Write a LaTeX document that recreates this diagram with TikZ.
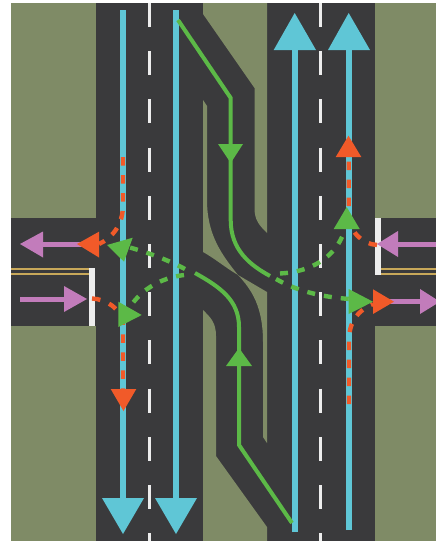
\documentclass[tikz,border=0pt]{standalone}
\definecolor{olive}{HTML}{7F8B66}
\definecolor{road}{HTML}{3A3A3C}
\definecolor{lane}{HTML}{5FC6D6}
\definecolor{turn}{HTML}{5CB947}
\definecolor{cross}{HTML}{F15A29}
\definecolor{walk}{HTML}{C27CBB}
\definecolor{paint}{HTML}{EDEDED}
\definecolor{tan}{HTML}{C8A85A}
\tikzset{
  verge/.style={fill=olive,draw=none},
  blueline/.style={draw=lane,line width=6.4pt},
  bluehead/.style={fill=lane,draw=none},
  greensolid/.style={draw=turn,line width=4pt},
  greendash/.style={draw=turn,line width=4.4pt,dash pattern=on 8pt off 9pt},
  greenhead/.style={fill=turn,draw=none},
  orangedash/.style={draw=cross,line width=4.4pt,dash pattern=on 8.5pt off 9.5pt},
  orangehead/.style={fill=cross,draw=none},
  purpleline/.style={draw=walk,line width=5pt},
  purplehead/.style={fill=walk,draw=none},
  centre/.style={draw=paint,line width=3pt,dash pattern=on 24pt off 24.2pt},
  yellow/.style={draw=tan,line width=1.8pt},
  stopbar/.style={fill=paint,draw=none}
}
\begin{document}
\begin{tikzpicture}[x=1pt,y=-1pt]
\useasboundingbox (0,0) rectangle (436,541);
\begin{scope}
\clip (11,3) rectangle (436,541);
\fill[olive] (11,3) rectangle (436,541);
% roads
\fill[road] (95.5,3) rectangle (267,541);
\fill[road] (267,3) rectangle (375,541);
\fill[road] (11,218) rectangle (436,326);
% verges between the carriageways
\path[verge] (203,3) -- (267,3) -- (267,233) .. controls (259,225) and (254.5,220) .. (254.5,208) -- (254.5,88) -- (203,14) -- cycle;
\path[verge] (203,541) -- (267,541) -- (267,527) -- (216,456) -- (216,336) .. controls (216,322) and (210,317) .. (203,310) -- cycle;
\path[verge] (203,100) -- (207,106) -- (207,200)
   .. controls (207,235) and (222,255) .. (238,275)
   -- (267,292) -- (267,443) -- (263,437) -- (263,342)
   .. controls (263,307) and (252,290) .. (238,275)
   .. controls (226,268) and (214,258) .. (203,252) -- cycle;
% centre lines
\draw[centre] (149,3) -- (149,541);
\draw[centre] (320.5,3) -- (320.5,541);
% double yellow
\draw[yellow] (11,269.3) -- (89,269.3);
\draw[yellow] (11,274.3) -- (89,274.3);
\draw[yellow] (381,269.3) -- (436,269.3);
\draw[yellow] (381,274.3) -- (436,274.3);
% stop bars
\path[stopbar] (88.5,268) rectangle (95,326);
\path[stopbar] (375,218) rectangle (381.3,275);
% blue lanes
\draw[blueline] (123,10) -- (123,505);
\path[bluehead] (102,498) -- (144,498) -- (123,534) -- cycle;
\draw[blueline] (176,10) -- (176,505);
\path[bluehead] (155,498) -- (197,498) -- (176,534) -- cycle;
\draw[blueline] (294.7,532) -- (294.7,45);
\path[bluehead] (273.7,50) -- (316,50) -- (294.7,13) -- cycle;
\draw[blueline] (348.7,530) -- (348.7,45);
\path[bluehead] (328,50) -- (370,50) -- (348.7,13) -- cycle;
% purple arrows
\draw[purpleline] (85,244) -- (40,244);
\path[purplehead] (43,231.5) -- (43,257.5) -- (20,244) -- cycle;
\draw[purpleline] (20,299) -- (68,299);
\path[purplehead] (64,286) -- (64,312) -- (87,299) -- cycle;
\draw[purpleline] (436,244) -- (395,244);
\path[purplehead] (398,231) -- (398,257) -- (377,244) -- cycle;
\draw[purpleline] (390,301.7) -- (425,301.7);
\path[purplehead] (420,289) -- (420,314) -- (440,301.7) -- cycle;
% orange dashed
\draw[orangedash] (123,157) -- (123,205) .. controls (123,225) and (112,238) .. (99,244);
\path[orangehead] (99,231.7) -- (99,257.5) -- (77,244) -- cycle;
\draw[orangedash] (92,298.5) .. controls (105,299) and (123,308) .. (123,327) -- (123,390);
\path[orangehead] (110.7,389) -- (136.3,389) -- (123.5,411) -- cycle;
\draw[orangedash] (377,245) .. controls (362,244) and (348.7,232) .. (348.7,212) -- (348.7,155);
\path[orangehead] (335.7,157) -- (361.3,157) -- (348.5,135.7) -- cycle;
\draw[orangedash] (349,404) -- (349,340) .. controls (349,322) and (358,310) .. (373,304);
\path[orangehead] (373,289.3) -- (373,314) -- (394,301.7) -- cycle;
% green solid
\draw[greensolid,line join=miter] (178,20) -- (230.7,98) -- (230.7,220) .. controls (230.7,250) and (250,265) .. (270,276);
\path[greenhead] (218,144) -- (243,144) -- (230.7,163) -- cycle;
\draw[greensolid,line join=miter] (292,523) -- (239,445) -- (239,327) .. controls (239,300) and (220,287) .. (195,273);
\path[greenhead] (226,366) -- (252,366) -- (239,348) -- cycle;
% green dashed
\draw[greendash] (280,273.5) .. controls (310,272) and (335,258) .. (344,232);
\path[greenhead] (333.7,229) -- (359.7,229) -- (346.7,207) -- cycle;
\draw[greendash] (276,279) .. controls (295,290) and (320,297) .. (350,299);
\path[greenhead] (348.7,289) -- (348.7,314) -- (373,301.7) -- cycle;
\draw[greendash] (185,269) .. controls (170,261) and (150,253) .. (128,247);
\path[greenhead] (107,245) -- (132.7,237.7) -- (124,261.7) -- cycle;
\draw[greendash] (184,275) .. controls (160,278) and (140,290) .. (128,310);
\path[greenhead] (118.3,301.7) -- (118.3,327) -- (141.7,315) -- cycle;
\end{scope}
\end{tikzpicture}
\end{document}
